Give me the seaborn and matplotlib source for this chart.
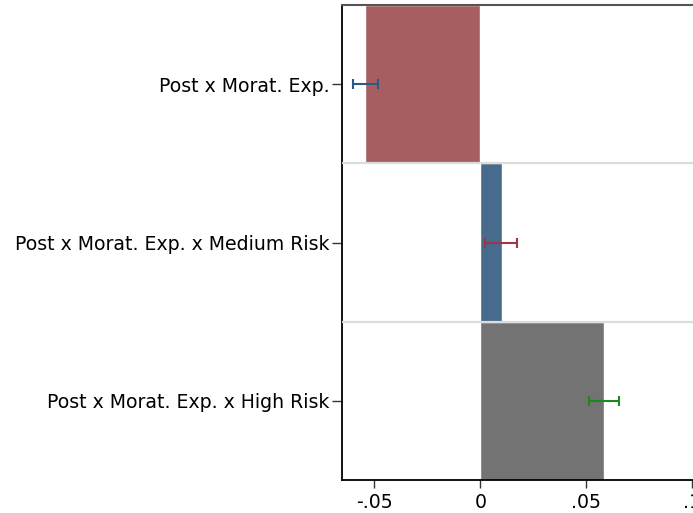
import matplotlib
matplotlib.use("Agg")
import matplotlib.pyplot as plt
import seaborn as sns
import pandas as pd

categories = ["Post x Morat. Exp.", "Post x Morat. Exp. x Medium Risk", "Post x Morat. Exp. x High Risk"]
bar_values = [-0.0544, 0.0102, 0.0584]
ci_low = [-0.0599, 0.0022, 0.0513]
ci_high = [-0.0484, 0.0175, 0.0653]
bar_colors = ["#a65e61", "#476b8c", "#737373"]
err_colors = ["#2a5a85", "#a0354a", "#1b8a1b"]
xtick_vals = [-0.05, 0, 0.05, 0.1]
xtick_labels = ["-.05", "0", ".05", ".1"]

sns.set_style("white")
plt.rcParams['font.family'] = ['DejaVu Sans']

df = pd.DataFrame({"term": categories, "value": bar_values})

W, H, DPI = 693, 513, 100
fig = plt.figure(figsize=(W / DPI, H / DPI), dpi=DPI)
x0 = 0.0654
x1 = 0.12
scale = 2120.0
left_px = 341.7
right_px = 480.3 + x1 * scale
ax = fig.add_axes([left_px / W, (513 - 480) / H, (right_px - left_px) / W, (480 - 5) / H])

sns.barplot(data=df, y="term", x="value", hue="term", palette=bar_colors,
            orient="h", width=1.0, dodge=False, legend=False, ax=ax, saturation=1)

for i in range(len(categories)):
    lo, hi = ci_low[i], ci_high[i]
    mid = (lo + hi) / 2
    ax.errorbar(mid, i, xerr=[[mid - lo], [hi - mid]], fmt="none",
                ecolor=err_colors[i], elinewidth=1.5, capsize=3.3, capthick=1.5, zorder=5)

for b in [0.5, 1.5]:
    ax.axhline(b, color="#dcdcdc", lw=1.6, zorder=4)

ax.set_xlim(-x0, x1)
ax.set_ylim(2.5, -0.5)
ax.set_xticks(xtick_vals)
ax.set_xticklabels(xtick_labels)
ax.set_xlabel("")
ax.set_ylabel("")
ax.tick_params(axis="both", labelsize=13.6, colors="black")
ax.tick_params(axis="y", length=7, width=1, color="#333333", pad=2)
ax.tick_params(axis="x", length=6, width=1, color="#333333", pad=3)
ax.xaxis.set_ticks_position("bottom")
ax.yaxis.set_ticks_position("left")

for s in ["left", "bottom"]:
    ax.spines[s].set_color("black")
    ax.spines[s].set_linewidth(1.3)
ax.spines["top"].set_color("#555555")
ax.spines["top"].set_linewidth(1.5)
ax.spines["right"].set_visible(False)

fig.savefig("out.png", dpi=DPI)
